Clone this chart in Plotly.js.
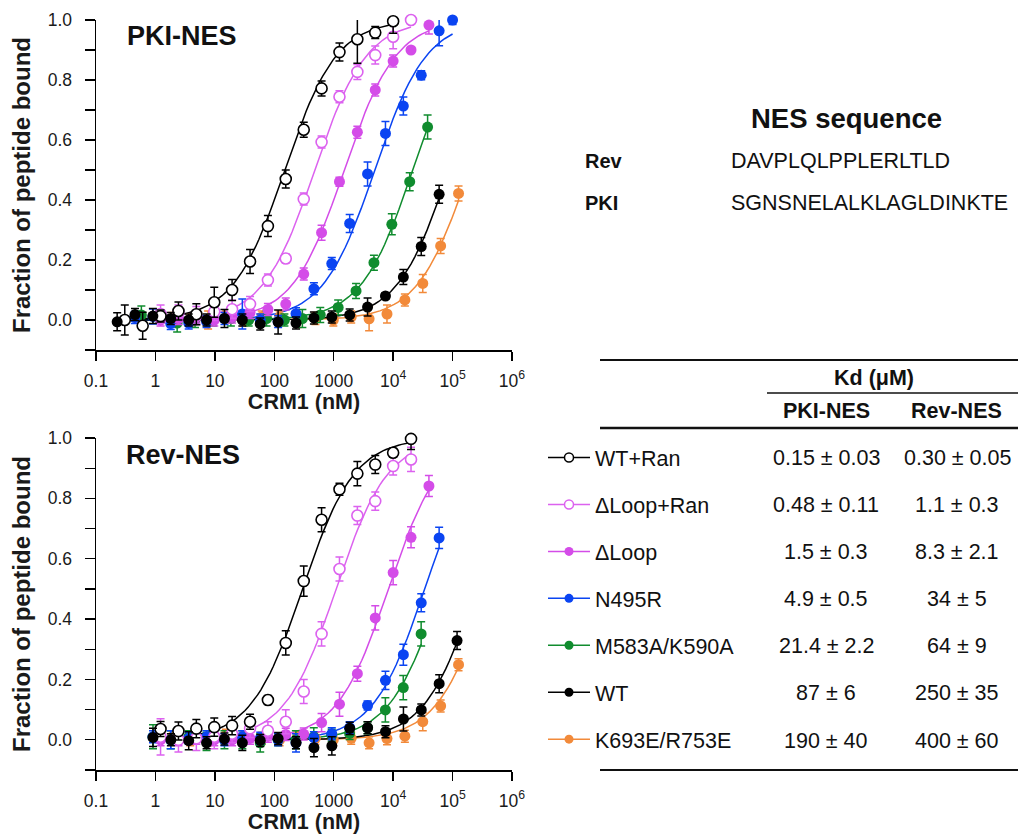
<!DOCTYPE html>
<html>
<head>
<meta charset="utf-8">
<script src="https://cdn.plot.ly/plotly-3.0.1.min.js"></script>
<style>html,body{margin:0;padding:0;background:#fff;}#chart{width:1018px;height:834px;}</style>
</head>
<body>
<div id="chart"></div>
<script>
// ---------- series names, colours, Kd table ----------
const seriesNames = ["WT+Ran", "\u0394Loop+Ran", "\u0394Loop", "N495R", "M583A/K590A", "WT", "K693E/R753E"];
const seriesColors = ["#000000", "#dc62ef", "#d44ce8", "#0a44f2", "#108c2e", "#000000", "#f28a3a"];
const seriesOpen = [true, true, false, false, false, false, false];
const kdPKI = ["0.15", "0.48", "1.5", "4.9", "21.4", "87", "190"];     // µM
const kdPKIErr = ["0.03", "0.11", "0.3", "0.5", "2.2", "6", "40"];
const kdRev = ["0.30", "1.1", "8.3", "34", "64", "250", "400"];      // µM
const kdRevErr = ["0.05", "0.3", "2.1", "5", "9", "35", "60"];

// ---------- PKI-NES data (CRM1 nM, fraction bound, error) ----------
const wtRanPKI_x = [0.305,0.61,1.22,2.44,4.88,9.77,19.5,39.1,78.1,156,313,625,1250,2500,5000,10000];
const wtRanPKI_y = [0.0,-0.019,0.013,0.03,0.019,0.059,0.10,0.195,0.313,0.47,0.634,0.772,0.893,0.936,0.958,0.996];
const wtRanPKI_e = [0.05,0.045,0.02,0.03,0.035,0.05,0.035,0.04,0.035,0.03,0.025,0.025,0.03,0.08,0.02,0.04];

const dlRanPKI_x = [1.22,2.44,4.88,9.77,19.5,39.1,78.1,156,313,625,1250,2500,5000,10000,20000];
const dlRanPKI_y = [0.02,0.025,0.015,0.028,0.036,0.053,0.133,0.205,0.403,0.593,0.744,0.827,0.883,0.944,1.0];
const dlRanPKI_e = [0.03,0.025,0.03,0.03,0.03,0.025,0.02,0.015,0.02,0.02,0.02,0.025,0.03,0.04,0.0];

const dlPKI_x = [1.22,2.44,4.88,9.77,19.5,39.1,78.1,156,313,625,1250,2500,5000,10000,20000,40000];
const dlPKI_y = [0.0,0.005,0.01,0.0,0.01,0.025,0.035,0.053,0.153,0.291,0.461,0.626,0.767,0.863,0.90,0.983];
const dlPKI_e = [0.02,0.02,0.02,0.02,0.02,0.02,0.02,0.02,0.02,0.025,0.015,0.02,0.02,0.02,0.005,0.03];

const n495PKI_x = [0.45,0.91,1.81,3.63,7.25,14.5,29,58,116,232,464,928,1856,3712,7425,14850,29700,59400,100000];
const n495PKI_y = [0.008,0.012,-0.012,-0.01,-0.005,0.005,0.02,0.0,-0.005,0.021,0.104,0.188,0.322,0.487,0.622,0.713,0.816,0.964,1.0];
const n495PKI_e = [0.02,0.025,0.02,0.02,0.02,0.02,0.05,0.02,0.02,0.02,0.02,0.02,0.03,0.04,0.04,0.03,0.015,0.05,0.015];

const m583PKI_x = [0.58,1.16,2.32,4.64,9.28,18.6,37.1,74.2,148,297,594,1188,2375,4750,9500,19000,38000];
const m583PKI_y = [0.017,0.01,-0.01,0.0,0.0,0.005,0.0,0.005,0.0,0.005,0.017,0.042,0.097,0.191,0.319,0.461,0.643];
const m583PKI_e = [0.03,0.02,0.03,0.025,0.02,0.025,0.02,0.025,0.02,0.03,0.025,0.025,0.025,0.025,0.035,0.03,0.04];

const wtPKI_x = [0.227,0.453,0.906,1.81,3.63,7.25,14.5,29,58,116,232,464,928,1856,3712,7425,14850,29700,59400];
const wtPKI_y = [-0.006,0.018,0.013,0.005,0.0,0.0,0.005,0.0,-0.013,-0.007,-0.01,0.007,0.01,0.017,0.043,0.08,0.143,0.245,0.419];
const wtPKI_e = [0.03,0.02,0.025,0.02,0.02,0.02,0.03,0.02,0.02,0.04,0.02,0.02,0.02,0.02,0.03,0.01,0.025,0.03,0.03];

const k693PKI_x = [1.92,3.85,7.7,15.4,30.8,61.5,123,246,492,985,1970,3940,7875,15750,31500,63000,126000];
const k693PKI_y = [0.005,0.0,0.0,0.01,0.0,0.01,0.01,0.0,0.005,0.0,0.01,0.004,0.02,0.067,0.122,0.247,0.422];
const k693PKI_e = [0.02,0.02,0.03,0.02,0.02,0.02,0.02,0.025,0.02,0.02,0.02,0.04,0.03,0.02,0.03,0.025,0.025];

// ---------- Rev-NES data ----------
const wtRanRev_x = [1.22,2.44,4.88,9.77,19.5,39.1,78.1,156,313,625,1250,2500,5000,10000,20000];
const wtRanRev_y = [0.036,0.029,0.037,0.042,0.047,0.06,0.132,0.321,0.526,0.729,0.83,0.882,0.912,0.951,0.997];
const wtRanRev_e = [0.025,0.03,0.03,0.03,0.03,0.025,0.015,0.04,0.05,0.04,0.02,0.04,0.03,0.015,0.035];

const dlRanRev_x = [1.22,2.44,4.88,9.77,19.5,39.1,78.1,156,313,625,1250,2500,5000,10000,20000];
const dlRanRev_y = [0.01,0.0,0.005,0.01,0.02,0.038,0.03,0.06,0.16,0.351,0.566,0.743,0.791,0.907,0.929];
const dlRanRev_e = [0.06,0.04,0.04,0.04,0.03,0.03,0.03,0.04,0.04,0.04,0.04,0.03,0.03,0.03,0.04];

const dlRev_x = [1.22,2.44,4.88,9.77,19.5,39.1,78.1,156,313,625,1250,2500,5000,10000,20000,40000];
const dlRev_y = [0.0,0.0,0.005,0.0,0.0,0.005,0.012,0.018,0.019,0.057,0.118,0.219,0.404,0.554,0.671,0.841];
const dlRev_e = [0.02,0.02,0.02,0.02,0.02,0.02,0.02,0.02,0.02,0.03,0.04,0.025,0.04,0.04,0.035,0.035];

const n495Rev_x = [0.91,1.81,3.63,7.25,14.5,29,58,116,232,464,928,1856,3712,7425,14850,29700,59400];
const n495Rev_y = [0.01,0.0,0.005,0.01,0.0,0.01,0.005,0.0,-0.01,0.007,0.02,0.04,0.114,0.197,0.282,0.454,0.669];
const n495Rev_e = [0.02,0.03,0.02,0.02,0.02,0.02,0.02,0.02,0.03,0.02,0.02,0.02,0.015,0.03,0.035,0.03,0.035];

const m583Rev_x = [0.91,1.81,3.63,7.25,14.5,29,58,116,231,462,925,1850,3700,7400,14800,29600];
const m583Rev_y = [0.01,0.0,0.01,-0.005,0.0,0.0,-0.01,0.0,0.0,0.01,0.015,0.021,0.04,0.099,0.173,0.351];
const m583Rev_e = [0.04,0.03,0.02,0.03,0.03,0.03,0.03,0.02,0.03,0.03,0.02,0.02,0.02,0.04,0.04,0.04];

const wtRev_x = [0.91,1.82,3.63,7.26,14.5,29,58,116,232,465,930,1860,3720,7440,14900,29750,59500,119000];
const wtRev_y = [0.008,0.0,-0.003,-0.01,0.003,-0.01,-0.002,0.004,-0.01,-0.026,-0.02,0.038,0.04,0.027,0.069,0.099,0.186,0.329];
const wtRev_e = [0.03,0.02,0.03,0.02,0.02,0.025,0.02,0.02,0.02,0.03,0.03,0.02,0.02,0.02,0.04,0.02,0.03,0.03];

const k693Rev_x = [1.92,3.85,7.7,15.4,30.8,61.5,123,246,492,985,1970,3940,7875,15750,31500,63000,126000];
const k693Rev_y = [0.01,0.0,0.0,0.015,0.01,0.005,0.0,0.01,0.005,0.0,0.005,-0.01,0.004,0.012,0.06,0.112,0.249];
const k693Rev_e = [0.02,0.02,0.02,0.02,0.02,0.02,0.02,0.02,0.02,0.02,0.02,0.02,0.02,0.02,0.03,0.02,0.02];

// ---------- axis ticks ----------
const xTickVals = [0.1, 1, 10, 100, 1000, 1e4, 1e5, 1e6];
const xTickText = ["0.1", "1", "10", "100", "1000", "10<sup>4</sup>", "10<sup>5</sup>", "10<sup>6</sup>"];
const yTickVals = [0, 0.2, 0.4, 0.6, 0.8, 1.0];
const yTickText = ["0.0", "0.2", "0.4", "0.6", "0.8", "1.0"];

const pkiData = [
  [wtRanPKI_x, wtRanPKI_y, wtRanPKI_e], [dlRanPKI_x, dlRanPKI_y, dlRanPKI_e], [dlPKI_x, dlPKI_y, dlPKI_e],
  [n495PKI_x, n495PKI_y, n495PKI_e], [m583PKI_x, m583PKI_y, m583PKI_e], [wtPKI_x, wtPKI_y, wtPKI_e],
  [k693PKI_x, k693PKI_y, k693PKI_e]];
const revData = [
  [wtRanRev_x, wtRanRev_y, wtRanRev_e], [dlRanRev_x, dlRanRev_y, dlRanRev_e], [dlRev_x, dlRev_y, dlRev_e],
  [n495Rev_x, n495Rev_y, n495Rev_e], [m583Rev_x, m583Rev_y, m583Rev_e], [wtRev_x, wtRev_y, wtRev_e],
  [k693Rev_x, k693Rev_y, k693Rev_e]];

// ---------- geometry helpers ----------
const W = 1018, H = 834;
const px = v => v / W;
const py = v => 1 - v / H;
const FONT = "Liberation Sans, Arial, sans-serif";

// fitted binding curve (single-site) from the Kd in the table, over each series' range
function fitCurve(xs, kdMicroM) {
  const kd = parseFloat(kdMicroM) * 1000;
  const lo = Math.log10(Math.min(...xs)), hi = Math.log10(Math.max(...xs));
  const cx = [], cy = [];
  const n = 80;
  for (let i = 0; i <= n; i++) {
    const x = Math.pow(10, lo + (hi - lo) * i / n);
    cx.push(x); cy.push(x / (kd + x));
  }
  return {cx, cy};
}

const traces = [];
const drawOrder = [6, 4, 3, 2, 1, 0, 5];
function addPanel(data, kds, xa, ya) {
  // curves
  for (const i of drawOrder) {
    const c = fitCurve(data[i][0], kds[i]);
    traces.push({x: c.cx, y: c.cy, xaxis: xa, yaxis: ya, type: "scatter", mode: "lines",
      line: {color: seriesColors[i], width: 1.5}, showlegend: false, hoverinfo: "skip", cliponaxis: false});
  }
  // points
  for (const i of drawOrder) {
    const col = seriesColors[i];
    traces.push({x: data[i][0], y: data[i][1], xaxis: xa, yaxis: ya, type: "scatter", mode: "markers",
      name: seriesNames[i], showlegend: false, cliponaxis: false,
      error_y: {type: "data", array: data[i][2], visible: true, color: col, thickness: 1.5, width: 4},
      marker: seriesOpen[i]
        ? {size: 11, color: "#ffffff", line: {color: col, width: 1.6}}
        : {size: 11, color: col, line: {width: 0}}});
  }
}
addPanel(pkiData, kdPKI, "x", "y");
addPanel(revData, kdRev, "x2", "y2");

// legend entries (line + marker)
for (let i = 0; i < seriesNames.length; i++) {
  const col = seriesColors[i];
  traces.push({x: [null], y: [null], xaxis: "x", yaxis: "y", type: "scatter", mode: "lines+markers",
    name: seriesNames[i], legendgroup: "g" + i, showlegend: true,
    line: {color: col, width: 1.5},
    marker: seriesOpen[i] ? {size: 9, color: "#ffffff", line: {color: col, width: 1.5}}
                          : {size: 9, color: col, line: {width: 0}}});
}

function xAxis(anchor) {
  return {domain: [px(96), px(512)], anchor: anchor, type: "log", range: [-1, 6],
    showline: true, linecolor: "#000", linewidth: 1.5, mirror: false,
    ticks: "outside", ticklen: 9, tickwidth: 1.3, tickcolor: "#000",
    tickmode: "array", tickvals: xTickVals, ticktext: xTickText,
    ticklabelstandoff: 5,
    tickfont: {family: FONT, size: 17.5, color: "#1a1a1a"},
    showgrid: false, zeroline: false,
    title: {text: "<b>CRM1 (nM)</b>", font: {family: FONT, size: 21.5, color: "#1a1a1a"}, standoff: 3}};
}
function yAxis(anchor, top, bottom) {
  return {domain: [py(bottom), py(top)], anchor: anchor, range: [-0.1, 1.0],
    showline: true, linecolor: "#000", linewidth: 1.5,
    ticks: "outside", ticklen: 10, tickwidth: 1.3, tickcolor: "#000",
    tickmode: "array", tickvals: yTickVals, ticktext: yTickText,
    minor: {tick0: 0.1, dtick: 0.2, ticks: "outside", ticklen: 10, tickwidth: 1.3, tickcolor: "#000", showgrid: false},
    ticklabelstandoff: 9,
    tickfont: {family: FONT, size: 17.5, color: "#1a1a1a"},
    showgrid: false, zeroline: false,
    title: {text: "<b>Fraction of peptide bound</b>", font: {family: FONT, size: 24, color: "#1a1a1a"}, standoff: 10}};
}

// ---------- table (annotations + rules) ----------
const ann = [];
function txt(t, x, y, size, bold, anchor) {
  ann.push({text: bold ? "<b>" + t + "</b>" : t, x: px(x), y: py(y), xref: "paper", yref: "paper",
    xanchor: anchor || "center", yanchor: "middle", showarrow: false,
    font: {family: FONT, size: size, color: "#111"}});
}
txt("PKI-NES", 125, 36, 27, true, "left");
txt("Rev-NES", 124, 455, 27, true, "left");
txt("NES sequence", 846, 118, 27.5, true, "center");
txt("Rev", 583, 161, 20, true, "left");
txt("DAVPLQLPPLERLTLD", 729, 161, 21.5, false, "left");
txt("PKI", 583, 203, 20, true, "left");
txt("SGNSNELALKLAGLDINKTE", 729, 203, 21.5, false, "left");
txt("Kd (\u03bcM)", 874, 378, 21.5, true, "center");
txt("PKI-NES", 826, 411, 21.5, true, "center");
txt("Rev-NES", 956, 411, 21.5, true, "center");
const rowY = [457.7, 505, 551.7, 598.5, 645.7, 693.3, 740.7];
for (let i = 0; i < seriesNames.length; i++) {
  txt(kdPKI[i] + " \u00b1 " + kdPKIErr[i], 826, rowY[i], 21.5, false, "center");
  txt(kdRev[i] + " \u00b1 " + kdRevErr[i], 957, rowY[i], 21.5, false, "center");
}
const shapes = [
  {type: "line", xref: "paper", yref: "paper", x0: px(600), x1: px(1018), y0: py(360), y1: py(360), line: {color: "#111", width: 2}},
  {type: "line", xref: "paper", yref: "paper", x0: px(767), x1: px(1018), y0: py(393), y1: py(393), line: {color: "#111", width: 1.5}},
  {type: "line", xref: "paper", yref: "paper", x0: px(600), x1: px(1018), y0: py(428), y1: py(428), line: {color: "#111", width: 2.5}},
  {type: "line", xref: "paper", yref: "paper", x0: px(600), x1: px(1018), y0: py(770), y1: py(770), line: {color: "#111", width: 2}}
];

const layout = {
  width: W, height: H, margin: {l: 0, r: 0, t: 0, b: 0},
  paper_bgcolor: "#fff", plot_bgcolor: "rgba(0,0,0,0)",
  font: {family: FONT, color: "#111"},
  xaxis: xAxis("y"), yaxis: yAxis("x", 20, 350),
  xaxis2: xAxis("y2"), yaxis2: yAxis("x2", 438, 770),
  showlegend: true,
  legend: {x: px(543), y: py(437), xanchor: "left", yanchor: "top", bgcolor: "rgba(0,0,0,0)",
    font: {family: FONT, size: 21.5, color: "#111"}, tracegroupgap: 16, itemwidth: 42, traceorder: "grouped"},
  annotations: ann, shapes: shapes
};

Plotly.newPlot("chart", traces, layout, {staticPlot: true, displayModeBar: false});
</script>
</body>
</html>
